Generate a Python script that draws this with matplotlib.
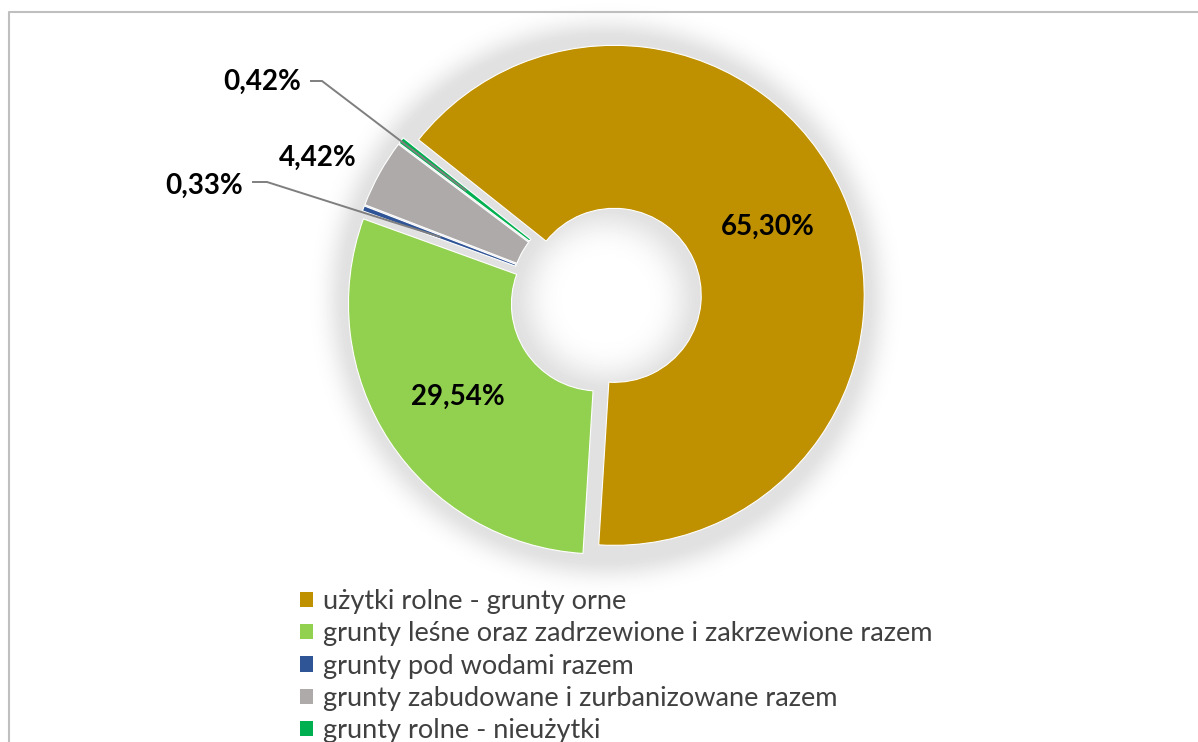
import numpy as np
import matplotlib.pyplot as plt
from matplotlib.patches import Patch

labels = ["użytki rolne - grunty orne",
          "grunty leśne oraz zadrzewione i zakrzewione razem",
          "grunty pod wodami razem",
          "grunty zabudowane i zurbanizowane razem",
          "grunty rolne - nieużytki"]
shares = [65.30, 29.54, 0.33, 4.42, 0.42]
value_text = ["65,30%", "29,54%", "0,33%", "4,42%", "0,42%"]
colors = ["#BF9000", "#92D050", "#2F5597", "#AEAAAA", "#00B050"]

W, H = 1198, 742
cx, cy = 606, H - 299
R = 250
ring = 163
expl = 9  # pixels

plt.rcParams['font.family'] = ['Lato', 'DejaVu Sans']
fig = plt.figure(figsize=(W / 100, H / 100), dpi=100)
ax = fig.add_axes([0, 0, 1, 1])

# soft grey shadow around the ring and inside the hole
yy, xx = np.mgrid[0:H, 0:W]
rr = np.hypot(xx + 0.5 - cx, (H - yy - 0.5) - cy)
ro = R + expl
ri = R - ring + expl
f = np.where(rr > ro, np.exp(-((rr - ro) / 20) ** 2),
             np.where(rr < ri, np.exp(-((ri - rr) / 28) ** 2), 1.0))
img = 1 - 0.12 * f
ax.imshow(img, cmap='gray', vmin=0, vmax=1, extent=(0, W, 0, H),
          origin='upper', zorder=0, interpolation='bilinear')

wedges, _ = ax.pie(shares, colors=colors, startangle=141.5, counterclock=False,
                   radius=R, center=(cx, cy), explode=[expl] * 5,
                   wedgeprops=dict(width=ring, edgecolor='white', linewidth=0.8))

rmid = R - ring / 2


def anchor(w):
    a = np.deg2rad((w.theta1 + w.theta2) / 2)
    return w.center[0] + rmid * np.cos(a), w.center[1] + rmid * np.sin(a)


# labels inside the two big slices
for i in (0, 1):
    x, y = anchor(wedges[i])
    ax.text(x, y, value_text[i], ha='center', va='center', fontsize=20,
            fontweight='bold', color='black', zorder=5)

# outside labels (pixel positions, y measured from top)
out_pos = {2: (204, 186), 3: (318, 158), 4: (262, 82)}
for i, (px, py) in out_pos.items():
    ax.text(px, H - py, value_text[i], ha='center', va='center', fontsize=20,
            fontweight='bold', color='black', zorder=5)

# leader lines
leaders = {2: ((253, 182), (267, 182)), 4: ((311, 81), (322, 81))}
for i, (p0, p1) in leaders.items():
    ax_, ay_ = anchor(wedges[i])
    ax.plot([p0[0], p1[0], ax_], [H - p0[1], H - p1[1], ay_],
            color='#7f7f7f', lw=1.4, zorder=4, solid_joinstyle='miter')

handles = [Patch(facecolor=c, edgecolor='none') for c in colors]
ax.legend(handles, labels, loc='upper left', bbox_to_anchor=(300 / W, 1 - 589 / H),
          frameon=False, fontsize=19.5, handlelength=0.48, handleheight=0.48,
          handletextpad=0.37, labelspacing=0.27, borderpad=0, borderaxespad=0,
          labelcolor='#404040')

# outer frame
ax.plot([9, 9, W + 5], [-5, H - 12, H - 12], color='#bfbfbf', lw=1.5,
        clip_on=False, zorder=6)

ax.set_xlim(0, W)
ax.set_ylim(0, H)
ax.axis('off')
fig.savefig('out.png', dpi=100)
